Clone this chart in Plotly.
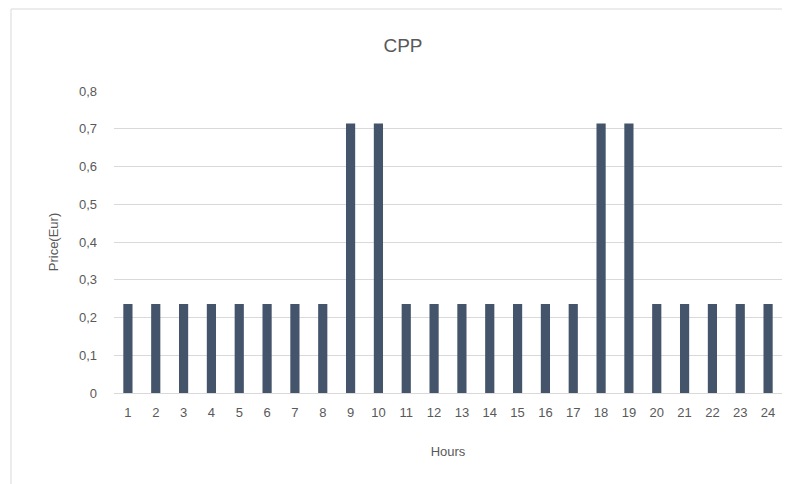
import plotly.graph_objects as go

hours = [str(h) for h in range(1, 25)]
price = [0.236, 0.236, 0.236, 0.236, 0.236, 0.236, 0.236, 0.236,
         0.714, 0.714,
         0.236, 0.236, 0.236, 0.236, 0.236, 0.236, 0.236,
         0.714, 0.714,
         0.236, 0.236, 0.236, 0.236, 0.236]
y_ticks = [0, 0.1, 0.2, 0.3, 0.4, 0.5, 0.6, 0.7, 0.8]
y_labels = ["0", "0,1", "0,2", "0,3", "0,4", "0,5", "0,6", "0,7", "0,8"]

FONT = "Liberation Sans"
GREY = "#595959"

fig = go.Figure(go.Bar(x=hours, y=price, marker=dict(color="#44546A", line=dict(width=0)),
                       width=0.33))

OFF = 8  # page body margin
W, H = 790 - OFF, 484 - OFF
L, R, T, B = 114 - OFF, 8, 91 - OFF, 91
pw = W - L - R
ph = H - T - B

fig.update_layout(
    width=W, height=H,
    margin=dict(l=L, r=R, t=T, b=B),
    paper_bgcolor="white", plot_bgcolor="white",
    showlegend=False,
    title=dict(text="CPP", x=(403 - OFF) / W, xref="container", xanchor="center",
               y=1 - (45 - OFF) / H, yref="container", yanchor="middle",
               font=dict(family=FONT, size=19, color=GREY)),
    font=dict(family=FONT, size=13, color=GREY),
    xaxis=dict(type="category", range=[-0.5, 23.5], showgrid=False,
               showline=True, linecolor="#D9D9D9", linewidth=1,
               ticks="", ticklabelstandoff=7,
               tickfont=dict(family=FONT, size=13, color=GREY),
               title=dict(text="Hours", standoff=28,
                          font=dict(family=FONT, size=13, color=GREY))),
    yaxis=dict(range=[0, 0.8], tickvals=y_ticks, ticktext=y_labels,
               showgrid=True, gridcolor="#D9D9D9", gridwidth=1,
               zeroline=False, showline=False, ticks="",
               ticklabelstandoff=16,
               tickfont=dict(family=FONT, size=13, color=GREY),
               title=dict(text="Price(Eur)", standoff=17,
                          font=dict(family=FONT, size=13, color=GREY))),
    shapes=[dict(type="rect", xref="paper", yref="paper",
                 x0=(11 - 114) / pw, x1=(830 - 114) / pw,
                 y0=-(520 - 393) / ph, y1=(393 - 9) / ph,
                 line=dict(color="#D9D9D9", width=1), fillcolor="rgba(0,0,0,0)",
                 layer="below")],
)

fig.write_html("out.html")
